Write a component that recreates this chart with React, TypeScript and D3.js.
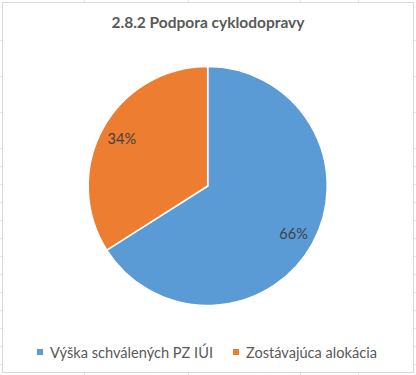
import React from "react";
import * as d3 from "d3";

const categories = ["Výška schválených PZ IÚI", "Zostávajúca alokácia"];
const values = [66, 34];
const colors = ["#5B9BD5", "#ED7D31"];
const title = "2.8.2 Podpora cyklodopravy";

const gridRows = [40, 76, 112, 148, 166, 184, 202, 220, 238, 256, 274, 292, 310, 328, 346, 364];
const gridCols = [84, 188, 300, 358];

const W = 416;
const H = 375;

export default function App() {
  const cx = 207.7;
  const cy = 186;
  const r = 119.5;
  const pie = d3.pie<number>().sort(null).value((d) => d)(values);
  const arc = d3.arc<d3.PieArcDatum<number>>().innerRadius(0).outerRadius(r);
  const total = d3.sum(values);
  const labelArc = d3.arc<d3.PieArcDatum<number>>().innerRadius(r * 0.82).outerRadius(r * 0.82);
  const font = "Lato, 'Open Sans', sans-serif";

  return (
    <div style={{ position: "fixed", left: 0, top: 0 }}>
      <svg width={W} height={H} style={{ display: "block", background: "#fff" }}>
        {gridRows.map((y) => (
          <line key={"r" + y} x1={0} x2={W} y1={y + 0.5} y2={y + 0.5} stroke="#e3e3e3" />
        ))}
        {gridCols.map((x) => (
          <line key={"c" + x} x1={x + 0.5} x2={x + 0.5} y1={0} y2={H} stroke="#e3e3e3" />
        ))}
        <rect x={2.5} y={2.5} width={411} height={370} fill="#fff" stroke="#d9d9d9" strokeWidth={1} />
        <text x={208} y={28} textAnchor="middle" fontFamily={font} fontWeight={700} fontSize={15.5} fill="#595959">
          {title}
        </text>
        <g transform={`translate(${cx},${cy})`}>
          {pie.map((p, i) => (
            <path key={i} d={arc(p) || ""} fill={colors[i]} stroke="#fff" strokeWidth={1.5} />
          ))}
          {pie.map((p, i) => {
            const [lx, ly] = labelArc.centroid(p);
            return (
              <text key={"l" + i} x={lx} y={ly} textAnchor="middle" dominantBaseline="central" fontFamily={font} fontSize={14.5} fill="#404040">
                {Math.round((p.data / total) * 100)}%
              </text>
            );
          })}
        </g>
        <g>
          {categories.map((c, i) => {
            const xs = [37, 233];
            return (
              <g key={c} transform={`translate(${xs[i]},352)`}>
                <rect x={0} y={-3} width={6} height={6} fill={colors[i]} />
                <text x={13} y={0} dominantBaseline="central" fontFamily={font} fontSize={14.6} fill="#595959">
                  {c}
                </text>
              </g>
            );
          })}
        </g>
      </svg>
    </div>
  );
}
